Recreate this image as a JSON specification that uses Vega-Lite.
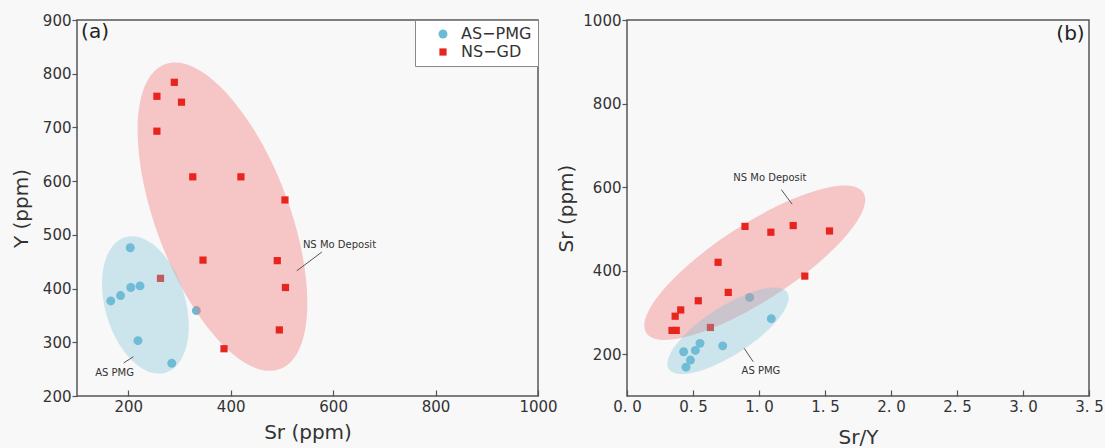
{
  "$schema": "https://vega.github.io/schema/vega-lite/v6.json",
  "background": "#f8f8f8",
  "padding": {"left": 10, "top": 12, "right": 0, "bottom": 0},
  "spacing": 89,
  "bounds": "flush",
  "config": {
    "font": "DejaVu Sans",
    "view": {"stroke": "#555", "strokeWidth": 1.5},
    "axis": {"domain": false, "grid": false, "tickColor": "#555", "tickWidth": 1.2, "labelFontSize": 15, "labelColor": "#333", "titleFontSize": 20, "titleFontWeight": "normal", "titleColor": "#333", "labelFont": "DejaVu Sans", "titleFont": "DejaVu Sans", "labelOverlap": false, "labelFlush": false},
    "axisX": {"tickSize": -6, "labelPadding": 9},
    "axisY": {"tickSize": 5, "labelPadding": 1},
    "legend": {"orient": "top-right", "offset": 0, "padding": 6, "strokeColor": "#888", "fillColor": "#ffffff", "labelFontSize": 16, "labelFont": "DejaVu Sans", "labelColor": "#333", "symbolOffset": 14, "labelOffset": 10, "rowPadding": 2, "symbolStrokeWidth": 0, "cornerRadius": 0}
  },
  "datasets": {
    "panel_a": [
      {"Sr": 204, "Y": 476, "group": "AS−PMG"},
      {"Sr": 166, "Y": 377, "group": "AS−PMG"},
      {"Sr": 185, "Y": 387, "group": "AS−PMG"},
      {"Sr": 205, "Y": 402, "group": "AS−PMG"},
      {"Sr": 223, "Y": 405, "group": "AS−PMG"},
      {"Sr": 219, "Y": 303, "group": "AS−PMG"},
      {"Sr": 285, "Y": 261, "group": "AS−PMG"},
      {"Sr": 333, "Y": 359, "group": "AS−PMG"},
      {"Sr": 290, "Y": 784, "group": "NS−GD"},
      {"Sr": 256, "Y": 758, "group": "NS−GD"},
      {"Sr": 304, "Y": 747, "group": "NS−GD"},
      {"Sr": 256, "Y": 693, "group": "NS−GD"},
      {"Sr": 326, "Y": 608, "group": "NS−GD"},
      {"Sr": 420, "Y": 608, "group": "NS−GD"},
      {"Sr": 506, "Y": 565, "group": "NS−GD"},
      {"Sr": 346, "Y": 453, "group": "NS−GD"},
      {"Sr": 491, "Y": 452, "group": "NS−GD"},
      {"Sr": 507, "Y": 402, "group": "NS−GD"},
      {"Sr": 263, "Y": 419, "group": "NS−GD"},
      {"Sr": 495, "Y": 323, "group": "NS−GD"},
      {"Sr": 387, "Y": 288, "group": "NS−GD"}
    ],
    "panel_b": [
      {"SrY": 0.929, "Sr": 336, "group": "AS−PMG"},
      {"SrY": 1.093, "Sr": 285, "group": "AS−PMG"},
      {"SrY": 0.725, "Sr": 220, "group": "AS−PMG"},
      {"SrY": 0.553, "Sr": 226, "group": "AS−PMG"},
      {"SrY": 0.518, "Sr": 209, "group": "AS−PMG"},
      {"SrY": 0.429, "Sr": 206, "group": "AS−PMG"},
      {"SrY": 0.481, "Sr": 186, "group": "AS−PMG"},
      {"SrY": 0.447, "Sr": 169, "group": "AS−PMG"},
      {"SrY": 0.894, "Sr": 506, "group": "NS−GD"},
      {"SrY": 1.09, "Sr": 492, "group": "NS−GD"},
      {"SrY": 1.259, "Sr": 508, "group": "NS−GD"},
      {"SrY": 1.534, "Sr": 495, "group": "NS−GD"},
      {"SrY": 0.69, "Sr": 420, "group": "NS−GD"},
      {"SrY": 1.347, "Sr": 387, "group": "NS−GD"},
      {"SrY": 0.767, "Sr": 348, "group": "NS−GD"},
      {"SrY": 0.54, "Sr": 328, "group": "NS−GD"},
      {"SrY": 0.407, "Sr": 306, "group": "NS−GD"},
      {"SrY": 0.365, "Sr": 291, "group": "NS−GD"},
      {"SrY": 0.341, "Sr": 257, "group": "NS−GD"},
      {"SrY": 0.373, "Sr": 257, "group": "NS−GD"},
      {"SrY": 0.632, "Sr": 264, "group": "NS−GD"}
    ],
    "fields_a": [
      {"region": "NS Mo Deposit", "Sr": 384, "Y": 534},
      {"region": "AS PMG", "Sr": 233.5, "Y": 369.6}
    ],
    "fields_b": [
      {"region": "NS Mo Deposit", "SrY": 0.968, "Sr": 419},
      {"region": "AS PMG", "SrY": 0.765, "Sr": 256}
    ],
    "notes_a": [
      {"Sr": 541, "Y": 482, "text": "NS Mo Deposit"},
      {"Sr": 135.5, "Y": 243, "text": "AS PMG"}
    ],
    "leaders_a": [
      {"Sr": 529, "Y": 433, "Sr2": 578, "Y2": 468},
      {"Sr": 191, "Y": 261.5, "Sr2": 210, "Y2": 273}
    ],
    "notes_b": [
      {"SrY": 0.805, "Sr": 622, "text": "NS Mo Deposit"},
      {"SrY": 0.868, "Sr": 161, "text": "AS PMG"}
    ],
    "leaders_b": [
      {"SrY": 1.169, "Sr": 594, "SrY2": 1.251, "Sr2": 559},
      {"SrY": 0.888, "Sr": 214, "SrY2": 0.956, "Sr2": 182}
    ],
    "tag_a": [{"Sr": 108, "Y": 878, "text": "(a)"}],
    "tag_b": [{"SrY": 3.467, "Sr": 966, "text": "(b)"}]
  },
  "hconcat": [
    {
      "width": 461,
      "height": 376,
      "encoding": {
        "x": {"field": "Sr", "type": "quantitative", "scale": {"domain": [100, 1000], "nice": false, "zero": false}, "axis": {"values": [200, 400, 600, 800, 1000], "format": "d", "title": "Sr (ppm)", "titlePadding": 8}},
        "y": {"field": "Y", "type": "quantitative", "scale": {"domain": [200, 900], "nice": false, "zero": false}, "axis": {"values": [200, 300, 400, 500, 600, 700, 800, 900], "format": "d", "title": "Y (ppm)", "titlePadding": 11}}
      },
      "layer": [
        {
          "data": {"name": "panel_a"},
          "transform": [{"filter": "datum.group === 'AS−PMG'"}],
          "mark": {"type": "point", "filled": true, "opacity": 1, "strokeWidth": 0},
          "encoding": {
            "color": {"field": "group", "type": "nominal", "scale": {"domain": ["AS−PMG", "NS−GD"], "range": ["#6bbad7", "#e8241e"]}, "legend": {"title": null}},
            "shape": {"field": "group", "type": "nominal", "scale": {"domain": ["AS−PMG", "NS−GD"], "range": ["circle", "square"]}, "legend": {"title": null}},
            "size": {"field": "group", "type": "nominal", "scale": {"domain": ["AS−PMG", "NS−GD"], "range": [80, 52]}, "legend": {"title": null}}
          }
        },
        {
          "data": {"name": "fields_a"},
          "transform": [{"filter": "datum.region === 'NS Mo Deposit'"}],
          "mark": {"type": "point", "shape": "M0,-1C0.226,-1,0.409,-0.552,0.409,0C0.409,0.552,0.226,1,0,1C-0.226,1,-0.409,0.552,-0.409,0C-0.409,-0.552,-0.226,-1,0,-1Z", "size": 106146, "angle": 339.3, "filled": true, "color": "#f27a7a", "opacity": 0.4, "strokeWidth": 0}
        },
        {
          "data": {"name": "panel_a"},
          "transform": [{"filter": "datum.group === 'NS−GD'"}],
          "mark": {"type": "point", "filled": true, "opacity": 1, "strokeWidth": 0},
          "encoding": {
            "color": {"field": "group", "type": "nominal", "scale": {"domain": ["AS−PMG", "NS−GD"], "range": ["#6bbad7", "#e8241e"]}, "legend": {"title": null}},
            "shape": {"field": "group", "type": "nominal", "scale": {"domain": ["AS−PMG", "NS−GD"], "range": ["circle", "square"]}, "legend": {"title": null}},
            "size": {"field": "group", "type": "nominal", "scale": {"domain": ["AS−PMG", "NS−GD"], "range": [80, 52]}, "legend": {"title": null}}
          }
        },
        {
          "data": {"name": "fields_a"},
          "transform": [{"filter": "datum.region === 'AS PMG'"}],
          "mark": {"type": "point", "shape": "M0,-1C0.314,-1,0.568,-0.552,0.568,0C0.568,0.552,0.314,1,0,1C-0.314,1,-0.568,0.552,-0.568,0C-0.568,-0.552,-0.314,-1,0,-1Z", "size": 19970, "angle": 343.5, "filled": true, "color": "#7cc0d8", "opacity": 0.35, "strokeWidth": 0}
        },
        {
          "data": {"name": "leaders_a"},
          "mark": {"type": "rule", "color": "#555", "strokeWidth": 1},
          "encoding": {
            "x2": {"field": "Sr2"},
            "y2": {"field": "Y2"}
          }
        },
        {
          "data": {"name": "notes_a"},
          "mark": {"type": "text", "align": "left", "baseline": "middle", "fontSize": 10, "color": "#333", "font": "DejaVu Sans"},
          "encoding": {"text": {"field": "text"}}
        },
        {
          "data": {"name": "tag_a"},
          "mark": {"type": "text", "align": "left", "baseline": "middle", "fontSize": 20, "color": "#222", "font": "DejaVu Sans"},
          "encoding": {"text": {"field": "text"}}
        }
      ]
    },
    {
      "width": 462,
      "height": 376,
      "encoding": {
        "x": {"field": "SrY", "type": "quantitative", "scale": {"domain": [0, 3.5], "nice": false, "zero": false}, "axis": {"values": [0, 0.5, 1, 1.5, 2, 2.5, 3, 3.5], "format": ".1f", "labelExpr": "replace(datum.label, '.', '. ')", "title": "Sr/Y", "titlePadding": 13}},
        "y": {"field": "Sr", "type": "quantitative", "scale": {"domain": [100, 1000], "nice": false, "zero": false}, "axis": {"values": [200, 400, 600, 800, 1000], "format": "d", "title": "Sr (ppm)", "titlePadding": 6}}
      },
      "layer": [
        {
          "data": {"name": "panel_b"},
          "transform": [{"filter": "datum.group === 'AS−PMG'"}],
          "mark": {"type": "point", "filled": true, "opacity": 1, "strokeWidth": 0},
          "encoding": {
            "color": {"field": "group", "type": "nominal", "scale": {"domain": ["AS−PMG", "NS−GD"], "range": ["#6bbad7", "#e8241e"]}, "legend": null},
            "shape": {"field": "group", "type": "nominal", "scale": {"domain": ["AS−PMG", "NS−GD"], "range": ["circle", "square"]}, "legend": null},
            "size": {"field": "group", "type": "nominal", "scale": {"domain": ["AS−PMG", "NS−GD"], "range": [80, 52]}, "legend": null}
          }
        },
        {
          "data": {"name": "fields_b"},
          "transform": [{"filter": "datum.region === 'NS Mo Deposit'"}],
          "mark": {"type": "point", "shape": "M0,-1C0.163,-1,0.296,-0.552,0.296,0C0.296,0.552,0.163,1,0,1C-0.163,1,-0.296,0.552,-0.296,0C-0.296,-0.552,-0.163,-1,0,-1Z", "size": 66771, "angle": 57.1, "filled": true, "color": "#f27a7a", "opacity": 0.4, "strokeWidth": 0}
        },
        {
          "data": {"name": "panel_b"},
          "transform": [{"filter": "datum.group === 'NS−GD'"}],
          "mark": {"type": "point", "filled": true, "opacity": 1, "strokeWidth": 0},
          "encoding": {
            "color": {"field": "group", "type": "nominal", "scale": {"domain": ["AS−PMG", "NS−GD"], "range": ["#6bbad7", "#e8241e"]}, "legend": null},
            "shape": {"field": "group", "type": "nominal", "scale": {"domain": ["AS−PMG", "NS−GD"], "range": ["circle", "square"]}, "legend": null},
            "size": {"field": "group", "type": "nominal", "scale": {"domain": ["AS−PMG", "NS−GD"], "range": [80, 52]}, "legend": null}
          }
        },
        {
          "data": {"name": "fields_b"},
          "transform": [{"filter": "datum.region === 'AS PMG'"}],
          "mark": {"type": "point", "shape": "M0,-1C0.189,-1,0.342,-0.552,0.342,0C0.342,0.552,0.189,1,0,1C-0.189,1,-0.342,0.552,-0.342,0C-0.342,-0.552,-0.189,-1,0,-1Z", "size": 19881, "angle": 57.1, "filled": true, "color": "#7cc0d8", "opacity": 0.35, "strokeWidth": 0}
        },
        {
          "data": {"name": "leaders_b"},
          "mark": {"type": "rule", "color": "#555", "strokeWidth": 1},
          "encoding": {
            "x2": {"field": "SrY2"},
            "y2": {"field": "Sr2"}
          }
        },
        {
          "data": {"name": "notes_b"},
          "mark": {"type": "text", "align": "left", "baseline": "middle", "fontSize": 10, "color": "#333", "font": "DejaVu Sans"},
          "encoding": {"text": {"field": "text"}}
        },
        {
          "data": {"name": "tag_b"},
          "mark": {"type": "text", "align": "right", "baseline": "middle", "fontSize": 20, "color": "#222", "font": "DejaVu Sans"},
          "encoding": {"text": {"field": "text"}}
        }
      ]
    }
  ],
  "resolve": {
    "scale": {"color": "independent", "shape": "independent", "size": "independent"},
    "legend": {"color": "independent", "shape": "independent", "size": "independent"}
  }
}
